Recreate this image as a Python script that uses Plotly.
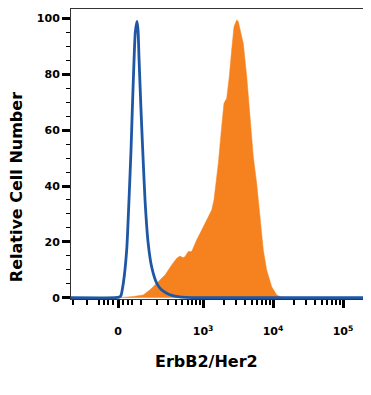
import numpy as np
import plotly.graph_objects as go

# Display positions are in decades of a biexponential (asinh) scale: T(v) = asinh(v/122)/ln(10)
W = 122.0
def T(v):
    return np.arcsinh(np.asarray(v, dtype=float) / W) / np.log(10)

# Isotype control (blue outline), x in display units
iso_x = [-0.757, -0.043, 0.014, 0.039, 0.076, 0.124, 0.157, 0.186, 0.204, 0.229, 0.247,
         0.271, 0.286, 0.300, 0.329, 0.353, 0.386, 0.429, 0.481, 0.553, 0.614, 0.696,
         0.771, 0.857, 0.971, 1.171, 3.6]
iso_y = [0, 0, 0.2, 0.6, 5.2, 17, 35, 53, 67, 85, 95,
         99, 96, 86, 67, 53, 35, 20, 11, 5.2, 3.0, 1.6,
         0.8, 0.35, 0.1, 0, 0]

# ErbB2/Her2 stained (orange filled)
stain_x = [0, 0.1, 0.219, 0.361, 0.457, 0.553, 0.671, 0.767, 0.839, 0.886, 0.929, 0.957,
           1.004, 1.053, 1.124, 1.196, 1.267, 1.339, 1.371, 1.4, 1.433, 1.481, 1.514,
           1.553, 1.590, 1.624, 1.657, 1.696, 1.719, 1.767, 1.790, 1.839, 1.886, 1.933,
           1.981, 2.029, 2.076, 2.124, 2.196, 2.267, 2.339, 2.457]
stain_y = [0, 0.2, 0.4, 1.0, 2.8, 5.2, 8.1, 11.7, 14.1, 14.9, 14.3, 14.7,
           16.5, 16.5, 20.7, 24.2, 27.8, 31.4, 35, 41, 48.1, 61.2, 69.6,
           71.4, 79.2, 88.7, 97, 99.5, 98.9, 93.5, 91.1, 79.2, 63.6, 50.5,
           41, 29, 17.1, 9.9, 3.9, 1.0, 0.1, 0]

# Axis ticks (intensity values)
x_major_vals = [0, 1e3, 1e4, 1e5]
x_major_text = ["0", "10<sup>3</sup>", "10<sup>4</sup>", "10<sup>5</sup>"]
x_minor_vals = ([-250, -150, -80, -60, -40, -20, 20, 40, 60]
                + [k * 100 for k in range(1, 10)]
                + [k * 1000 for k in range(2, 10)]
                + [k * 10000 for k in range(2, 10)]
                + [2e5])
y_major_vals = [0, 20, 40, 60, 80, 100]

ORANGE = "#F5821F"
BLUE = "#1F57A4"
FONT = "DejaVu Sans"

fig = go.Figure()
fig.add_trace(go.Scatter(x=stain_x, y=stain_y, mode="lines", fill="tozeroy",
                         fillcolor=ORANGE, line=dict(color=ORANGE, width=0.5),
                         hoverinfo="skip", showlegend=False))
fig.add_trace(go.Scatter(x=iso_x, y=iso_y, mode="lines",
                         line=dict(color=BLUE, width=2.8, shape="spline", smoothing=0.6),
                         hoverinfo="skip", showlegend=False))

fig.update_layout(
    width=363, height=387,
    margin=dict(l=63, r=5, t=1, b=96),
    paper_bgcolor="white", plot_bgcolor="white",
    font=dict(family=FONT, color="black"),
    showlegend=False,
    xaxis=dict(
        range=[-0.6714, 3.543], showgrid=False, zeroline=False,
        showline=True, linecolor="#333", linewidth=1, mirror=True,
        ticks="outside", tickmode="array",
        tickvals=list(T(x_major_vals)), ticktext=x_major_text,
        ticklen=8, tickwidth=2.5, tickcolor="black",
        tickfont=dict(family=FONT, size=11, color="black", weight="bold"),
        ticklabelstandoff=14,
        minor=dict(tickmode="array", tickvals=list(T(x_minor_vals)),
                   ticklen=5, tickwidth=1.5, tickcolor="black", ticks="outside"),
    ),
    yaxis=dict(
        range=[-0.47, 103.4], showgrid=False, zeroline=False,
        showline=True, linecolor="#333", linewidth=1, mirror=True,
        ticks="outside", tickmode="array", tickvals=y_major_vals,
        ticktext=[str(v) for v in y_major_vals],
        ticklen=8, tickwidth=3, tickcolor="black",
        tickfont=dict(family=FONT, size=11, color="black", weight="bold"),
        minor=dict(dtick=5, tick0=0, ticklen=4, tickwidth=1, tickcolor="black", ticks="outside"),
    ),
    annotations=[
        dict(text="ErbB2/Her2", xref="paper", yref="paper", x=0.46, y=-0.217,
             xanchor="center", yanchor="middle", showarrow=False,
             font=dict(family=FONT, size=16, color="black", weight="bold")),
        dict(text="Relative Cell Number", xref="paper", yref="paper", x=-0.186, y=0.386,
             xanchor="center", yanchor="middle", textangle=-90, showarrow=False,
             font=dict(family=FONT, size=16, color="black", weight="bold")),
    ],
)

fig.write_html("out.html")
